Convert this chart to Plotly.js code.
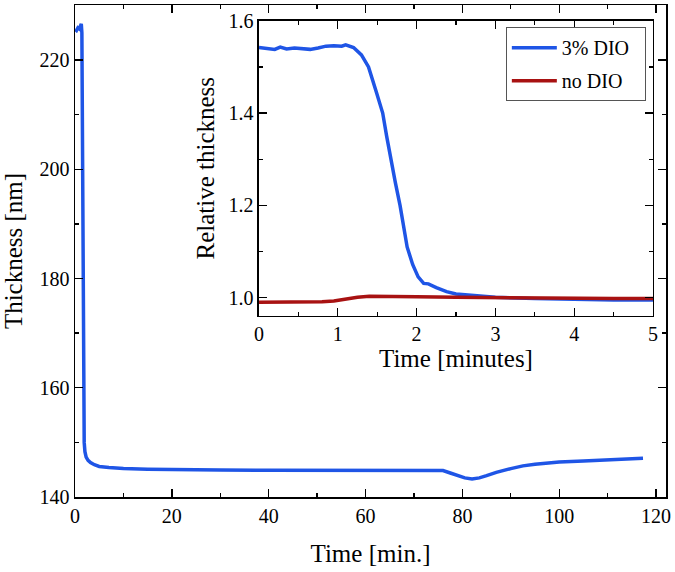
<!DOCTYPE html>
<html>
<head>
<meta charset="utf-8">
<script src="https://cdn.plot.ly/plotly-3.0.1.min.js"></script>
<style>html,body{margin:0;padding:0;background:#fff;}#chart{width:675px;height:572px;}</style>
</head>
<body>
<div id="chart"></div>
<script>
// Main plot: film thickness vs time (minutes)
const mainTime = [0, 0.3, 0.6, 0.9, 1.1, 1.3, 1.42, 1.5, 1.56, 1.62, 1.68, 1.74, 1.8, 1.9, 2.05, 2.3, 2.7, 3.2, 4, 5, 7, 10, 15, 20, 30, 40, 50, 60, 70, 76, 77.5, 79, 80.5, 82, 83.5, 85, 87, 90, 92.5, 95, 97.5, 100, 105, 110, 115, 117.3];
const mainThickness = [225.6, 225.4, 225.9, 225.7, 226.2, 226.6, 225, 214, 200, 186, 172, 161, 154, 150, 148.3, 147.3, 146.7, 146.3, 145.9, 145.6, 145.4, 145.2, 145.1, 145.0, 144.95, 144.9, 144.9, 144.9, 144.85, 144.85, 144.4, 143.9, 143.5, 143.3, 143.5, 143.9, 144.5, 145.2, 145.7, 146.0, 146.2, 146.4, 146.6, 146.8, 146.9, 147.1];

// Inset: relative thickness, first 5 minutes
const dioTime = [0, 0.1, 0.2, 0.27, 0.35, 0.45, 0.55, 0.65, 0.75, 0.85, 0.95, 1.05, 1.1, 1.2, 1.3, 1.39, 1.49, 1.57, 1.62, 1.67, 1.73, 1.79, 1.84, 1.88, 1.95, 2.02, 2.09, 2.15, 2.25, 2.38, 2.5, 2.68, 3.0, 3.5, 4.0, 4.5, 5.0];
const dioRel = [1.542, 1.540, 1.538, 1.543, 1.539, 1.541, 1.539, 1.538, 1.541, 1.545, 1.546, 1.545, 1.548, 1.542, 1.526, 1.500, 1.445, 1.400, 1.350, 1.300, 1.250, 1.200, 1.150, 1.110, 1.072, 1.045, 1.031, 1.030, 1.022, 1.013, 1.008, 1.005, 1.001, 0.998, 0.996, 0.995, 0.995];
const noDioTime = [0, 0.3, 0.6, 0.8, 0.95, 1.1, 1.25, 1.4, 1.6, 2.0, 2.5, 3.0, 3.5, 4.0, 4.5, 5.0];
const noDioRel = [0.990, 0.990, 0.990, 0.991, 0.993, 0.997, 1.001, 1.003, 1.003, 1.002, 1.001, 1.000, 0.999, 0.999, 0.998, 0.998];

const seriesNames = ['3% DIO', 'no DIO'];
const mainXTicks = [0, 20, 40, 60, 80, 100, 120];
const mainYTicks = [140, 160, 180, 200, 220];
const insetXTicks = [0, 1, 2, 3, 4, 5];
const insetYTicks = [1.0, 1.2, 1.4, 1.6];
const insetYTickText = ['1.0', '1.2', '1.4', '1.6'];

const BLUE = '#1f55e6';
const RED = '#a81212';
const FAM = 'Liberation Serif, Times New Roman, serif';
const TICKFONT = {family: FAM, size: 20, color: '#000'};
const TITLEFONT = {family: FAM, size: 25, color: '#000'};
const LEGFONT = {family: FAM, size: 20, color: '#000'};

const traces = [
  {x: mainTime, y: mainThickness, type: 'scatter', mode: 'lines', line: {color: BLUE, width: 3.5}, showlegend: false, xaxis: 'x', yaxis: 'y'},
  {x: dioTime, y: dioRel, type: 'scatter', mode: 'lines', name: seriesNames[0] + '\u00a0\u00a0', legendgroup: 'a', line: {color: BLUE, width: 3.5}, xaxis: 'x2', yaxis: 'y2'},
  {x: noDioTime, y: noDioRel, type: 'scatter', mode: 'lines', name: seriesNames[1] + '\u00a0\u00a0', legendgroup: 'b', line: {color: RED, width: 3.5}, xaxis: 'x2', yaxis: 'y2'}
];

function axisBase() {
  return {
    showgrid: false, zeroline: false, showline: true, linecolor: '#000', linewidth: 1.5,
    mirror: 'allticks', ticks: 'inside', ticklen: 8, tickwidth: 1.3, tickcolor: '#000',
    tickfont: TICKFONT
  };
}

const layout = {
  width: 675, height: 572,
  margin: {l: 75, r: 9, t: 5, b: 75},
  paper_bgcolor: '#fff', plot_bgcolor: '#fff',
  font: TICKFONT,
  showlegend: true,
  legend: {
    x: 0.729, y: 0.955, xanchor: 'left', yanchor: 'top',
    bgcolor: '#fff', bordercolor: '#555', borderwidth: 1,
    font: LEGFONT, itemwidth: 45, traceorder: 'grouped', tracegroupgap: 4
  },
  xaxis: Object.assign(axisBase(), {
    domain: [0, 1], range: [0, 122.05], tickmode: 'array', tickvals: mainXTicks,
    minor: {dtick: 10, tick0: 0, ticks: 'inside', ticklen: 4, tickcolor: '#000', tickwidth: 1.3},
    title: {text: 'Time [min.]', font: TITLEFONT, standoff: 19},
    anchor: 'y'
  }),
  yaxis: Object.assign(axisBase(), {
    domain: [0, 1], range: [140, 230.07], tickmode: 'array', tickvals: mainYTicks,
    minor: {dtick: 10, tick0: 0, ticks: 'inside', ticklen: 4, tickcolor: '#000', tickwidth: 1.3},
    title: {text: 'Thickness [nm]', font: TITLEFONT, standoff: 10},
    anchor: 'x'
  }),
  xaxis2: Object.assign(axisBase(), {
    domain: [0.3113, 0.978], range: [0, 5], tickmode: 'array', tickvals: insetXTicks,
    minor: {dtick: 0.5, tick0: 0, ticks: 'inside', ticklen: 4, tickcolor: '#000', tickwidth: 1.3},
    title: {text: 'Time [minutes]', font: TITLEFONT, standoff: 2},
    anchor: 'y2'
  }),
  yaxis2: Object.assign(axisBase(), {
    domain: [0.3685, 0.968], range: [0.961, 1.6], tickmode: 'array', tickvals: insetYTicks, ticktext: insetYTickText,
    minor: {dtick: 0.1, tick0: 1.0, ticks: 'inside', ticklen: 4, tickcolor: '#000', tickwidth: 1.3},
    title: {text: 'Relative thickness', font: TITLEFONT, standoff: 6},
    anchor: 'x2'
  })
};

Plotly.newPlot('chart', traces, layout, {displayModeBar: false, staticPlot: true});
</script>
</body>
</html>
